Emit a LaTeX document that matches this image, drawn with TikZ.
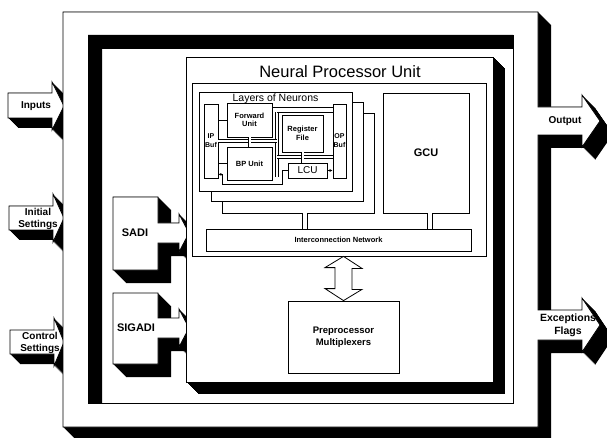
\documentclass[tikz,border=0pt]{standalone}
\usepackage{fontspec}
\setmainfont{Liberation Sans}
\usepackage{tikz}
\usetikzlibrary{arrows.meta,positioning,calc}

\newcommand{\raisedshape}[2]{%
  \foreach \d in {0,0.5,...,#1}{\fill[black,shift={(\d,\d)}] #2;}%
  \draw[fill=white,line width=0.8pt] #2;}

\tikzset{
  box/.style={draw, fill=white, line width=0.8pt, inner sep=0pt},
  lbl/.style={font=\bfseries\fontsize{10}{12}\selectfont, align=center, inner sep=0pt},
  small/.style={font=\bfseries\fontsize{7.5}{8.5}\selectfont, align=center, inner sep=0pt},
  bus/.style={double, double distance=2pt, line width=0.6pt},
  dbus/.style={double, double distance=3.5pt, line width=0.9pt},
}

\begin{document}
\begin{tikzpicture}[x=1pt, y=-1pt]
\useasboundingbox (0,0) rectangle (607,438);

\raisedshape{10}{(8,93) -- (52,93) -- (52,82) -- (64,106) -- (52,130) -- (52,118) -- (8,118) -- cycle}
\raisedshape{10}{(9,206) -- (53,206) -- (53,194) -- (64,218) -- (53,242) -- (53,230) -- (9,230) -- cycle}
\raisedshape{10}{(10,330) -- (54,330) -- (54,318) -- (64,342) -- (54,366) -- (54,354) -- (10,354) -- cycle}

\raisedshape{13}{(63,12) -- (538,12) -- (538,107) -- (582,107) -- (582,95) -- (600,121) -- (582,147) -- (582,135) -- (538,135) -- (538,310) -- (582,310) -- (582,298) -- (600,325) -- (582,352) -- (582,340) -- (538,340) -- (538,427) -- (63,427) -- cycle}

\fill (88,35) -- (513,35) -- (513,49) -- (102,49) -- (102,403) -- (88,403) -- cycle;
\draw[line width=0.8pt] (88,35) rectangle (513,403);

\raisedshape{13}{(113,197) -- (158,197) -- (158,223) -- (179,223) -- (179,214) -- (189,233) -- (179,252) -- (179,243) -- (158,243) -- (158,270) -- (113,270) -- cycle}
\raisedshape{13}{(113,293) -- (158,293) -- (158,318) -- (179,318) -- (179,309) -- (189,328) -- (179,347) -- (179,338) -- (158,338) -- (158,364) -- (113,364) -- cycle}

\raisedshape{12}{(186,57) rectangle (493,382)}

\node[lbl] (inputs) at (36,106) {Inputs};
\node[lbl] (initset) at (38,219) {Initial\\Settings};
\node[lbl] (ctrlset) at (40,343) {Control\\Settings};
\node[lbl] (output) at (565,121) {Output};
\node[lbl, font=\bfseries\fontsize{10.5}{13}\selectfont] (except) at (568,325) {Exceptions\\Flags};
\node[lbl, font=\bfseries\fontsize{11}{12}\selectfont] (sadi) at (135,233) {SADI};
\node[lbl, font=\bfseries\fontsize{11}{12}\selectfont] (sigadi) at (136,328) {SIGADI};

\node[inner sep=0pt, font=\fontsize{16.5}{18}\selectfont] (npulbl) at (340,72) {Neural Processor Unit};
\node[box, minimum width=294pt, minimum height=173pt] (npuin) at (339,169.5) {};

\node[box, minimum width=152pt, minimum height=100pt] (lay3) at (298,163) {};
\node[box, minimum width=152pt, minimum height=99pt] (lay2) at (287,151.5) {};
\node[box, minimum width=153pt, minimum height=99pt] (lay1) at (275.5,141.5) {};
\node[inner sep=0pt, font=\fontsize{10.5}{12}\selectfont, below=2pt of lay1.north] (laylbl) {Layers of Neurons};

\node[box, minimum width=14pt, minimum height=74pt] (ipbuf) at (211,141) {};
\node[small, font=\bfseries\fontsize{7}{9}\selectfont] (iplbl) at (ipbuf) {IP\\Buf};
\node[box, minimum width=13pt, minimum height=74pt] (opbuf) at (339.5,141) {};
\node[small, font=\bfseries\fontsize{7}{9}\selectfont] (oplbl) at (opbuf) {OP\\Buf};
\node[box, small, minimum width=45pt, minimum height=34pt] (fwd) at (249.5,120) {Forward\\Unit};
\node[box, small, minimum width=45pt, minimum height=33pt] (bp) at (249.5,163.5) {BP Unit};
\node[box, small, minimum width=41pt, minimum height=37pt] (rf) at (302.5,133.5) {Register\\File};
\node[box, minimum width=39pt, minimum height=15pt, font=\fontsize{10}{11}\selectfont] (lcu) at (307.5,170.5) {LCU};

\coordinate (vtop) at (277,112);
\coordinate (vbot) at (277,177);
\coordinate (vmid) at (277,157);
\coordinate (ret) at (282,184);

\draw[bus] (vtop) -- (vbot);
\draw[bus] (ipbuf.east) -- (ipbuf.east -| vtop);
\draw[bus] (vmid) -- (vmid -| opbuf.west);
\draw[bus] (fwd.south) -- (bp.north);
\draw[bus] (rf.south) -- (rf.south |- lcu.north);
\draw[line width=0.6pt] (ipbuf.east |- fwd.west) -- (fwd.west);
\draw[line width=0.6pt] (ipbuf.east |- bp.west) -- (bp.west);
\draw[line width=0.6pt] (vtop) -- (vtop -| opbuf.west);
\draw[line width=0.6pt] ([yshift=-5pt]fwd.north east) -- ([yshift=-5pt]fwd.north east -| opbuf.west);
\draw[line width=0.6pt, -{Latex[length=3pt,width=3pt]}] (lcu.east) -- (lcu.east -| opbuf.west);
\draw[line width=0.6pt, -{Latex[length=3pt,width=3pt]}] (lcu.west) -| (ret) -| ([xshift=4pt,yshift=4pt]ipbuf.south east) -- ([yshift=4pt]ipbuf.south east);

\node[box, minimum width=86pt, minimum height=120pt, font=\bfseries\fontsize{11}{12}\selectfont] (gcu) at (426,153) {GCU};
\node[box, minimum width=265pt, minimum height=22pt, font=\bfseries\fontsize{7.5}{8}\selectfont] (icn) at (338.5,240) {Interconnection Network};
\draw[dbus] ([xshift=7pt]lay3.south) -- ([xshift=7pt]lay3.south |- icn.north);
\draw[dbus] ([xshift=4pt]gcu.south) -- ([xshift=4pt]gcu.south |- icn.north);

\node[box, lbl, font=\bfseries\fontsize{9.5}{12}\selectfont, minimum width=111pt, minimum height=72pt] (prep) at (343.5,337) {Preprocessor\\Multiplexers};
\draw[line width=0.8pt, fill=white] (npuin.south -| prep.north) -- ++(18.5,12) -- ++(-10,0) -- ++(0,21) -- ++(10,0) -- (prep.north) -- ++(-18.5,-12) -- ++(10,0) -- ++(0,-21) -- ++(-10,0) -- cycle;
\end{tikzpicture}
\end{document}
